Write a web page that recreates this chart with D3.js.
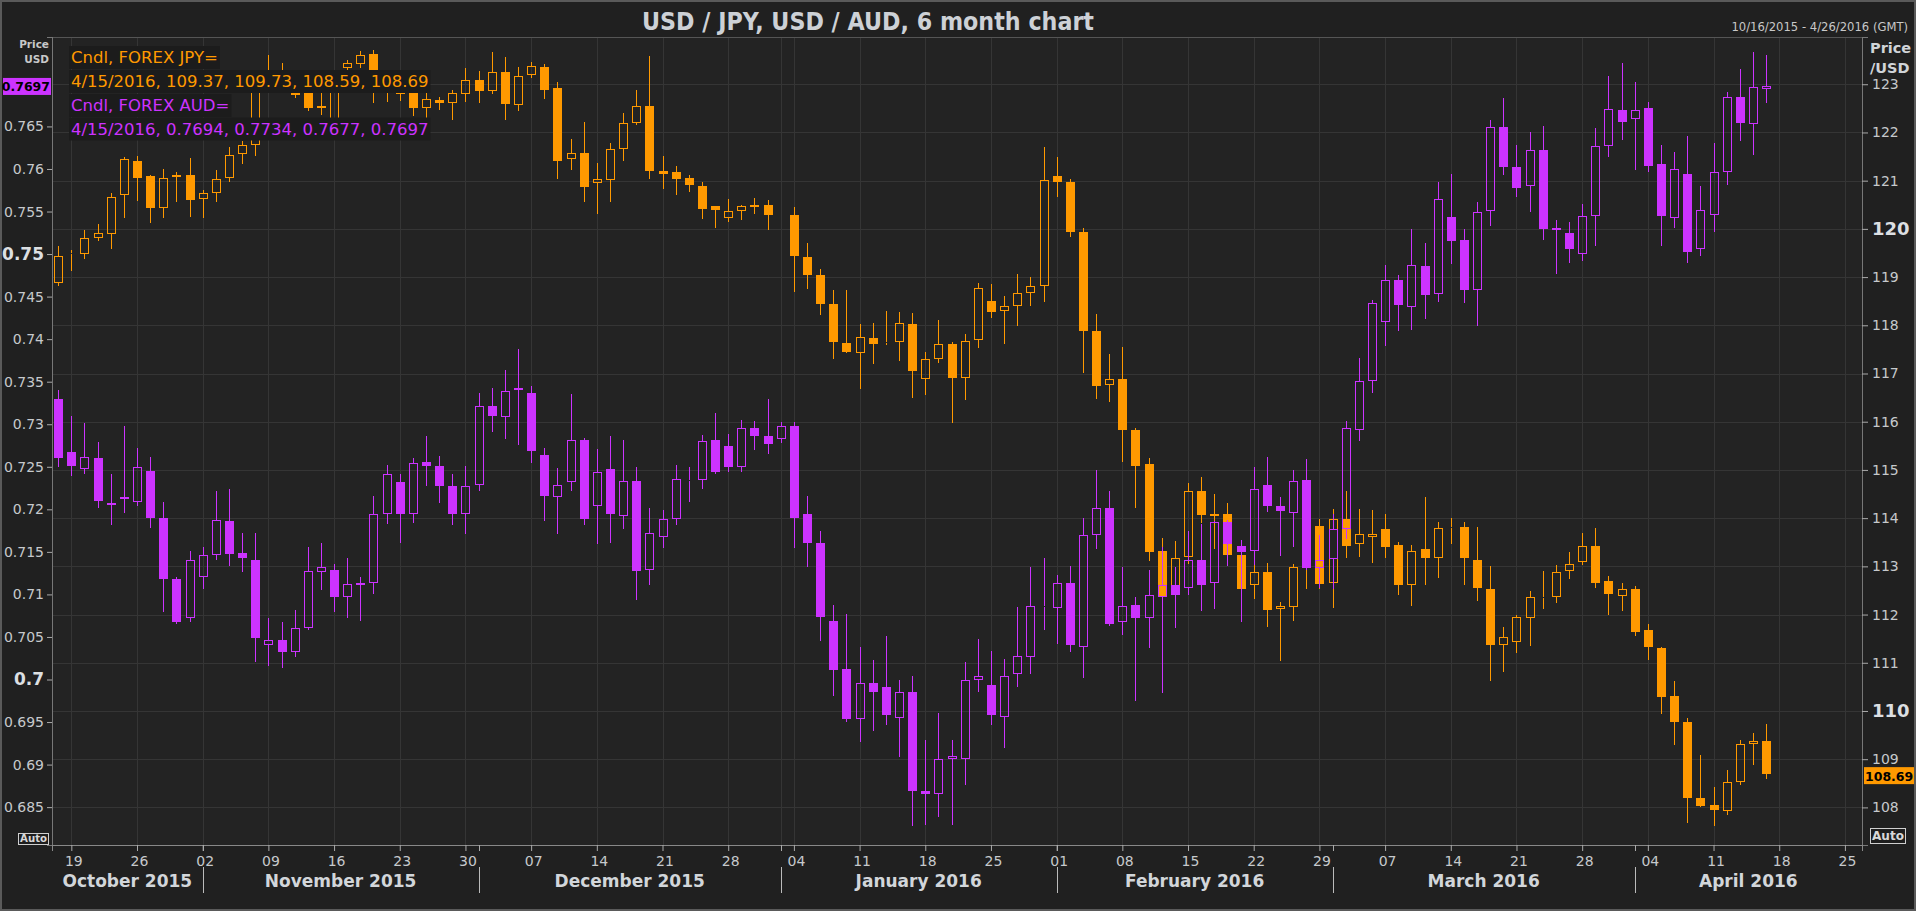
<!DOCTYPE html>
<html><head><meta charset="utf-8">
<script src="https://cdn.jsdelivr.net/npm/d3@7"></script>
<style>
html,body{margin:0;padding:0;background:#202020;overflow:hidden;}
svg{display:block;}
text{font-family:"DejaVu Sans",Verdana,sans-serif;}
</style></head><body>
<svg id="chart" width="1916" height="911"></svg>
<script>
// ---------- data ----------
const firstDay = "2015-10-16";          // first trading day shown
const lastCalendarDay = "2016-04-29";   // end of the time axis
const chartTitle = "USD / JPY, USD / AUD, 6 month chart";
const rangeLabel = "10/16/2015 - 4/26/2016 (GMT)";
const jpyName = "Cndl, FOREX JPY=";
const audName = "Cndl, FOREX AUD=";

const jpyOpen = [118.87,119.47,119.47,119.82,119.90,120.70,121.41,121.10,120.44,121.07,
121.12,120.62,120.74,121.06,121.56,121.74,123.15,123.20,123.00,122.95,
122.50,122.25,123.33,123.42,123.62,122.95,122.80,122.95,122.50,122.67,
122.61,122.80,123.09,122.87,123.25,122.56,123.20,123.36,122.93,121.45,
121.57,120.96,121.02,121.66,122.19,122.54,121.20,121.17,121.06,120.89,
120.47,120.22,120.38,120.49,120.49,120.28,120.28,119.42,119.05,118.45,
117.64,117.43,117.73,117.63,117.66,118.03,116.89,117.30,117.61,116.91,
117.69,118.50,118.29,118.41,118.67,118.81,121.10,120.97,119.94,117.88,
116.76,116.89,115.83,115.12,113.32,112.56,113.20,114.57,114.09,114.08,
113.23,112.61,112.88,112.11,112.16,112.98,113.84,112.66,113.99,113.47,
113.60,113.78,113.45,112.61,113.35,113.17,113.80,113.81,113.14,112.54,
111.37,111.44,111.93,112.35,112.36,112.90,113.09,113.42,112.70,112.39,
112.54,111.68,111.31,110.32,109.78,108.19,108.04,107.92,108.52,109.32,
109.37];
const jpyHigh = [119.65,119.57,119.97,120.10,120.75,121.49,121.52,121.12,121.25,121.18,
121.46,120.81,121.23,121.70,121.83,123.30,123.60,123.44,123.12,123.02,
122.81,123.30,123.50,123.68,123.70,123.10,122.95,123.00,122.94,122.74,
122.88,123.33,123.28,123.67,123.57,123.36,123.47,123.41,123.04,121.87,
122.21,121.36,121.78,122.40,122.88,123.59,121.52,121.30,121.12,120.97,
120.48,120.63,120.50,120.65,120.59,120.29,120.45,119.70,119.17,118.74,
118.74,118.03,118.05,118.29,118.28,118.26,117.44,118.10,117.66,117.82,
118.88,118.86,118.61,119.06,119.00,121.69,121.49,121.04,120.02,118.24,
117.41,117.54,115.86,115.25,113.59,113.52,114.72,114.86,114.50,114.32,
113.30,113.04,113.06,112.26,113.04,114.05,113.98,114.18,114.56,114.19,
114.17,114.08,113.50,113.45,114.43,113.92,114.00,113.92,113.81,113.01,
111.75,112.00,112.48,112.91,113.02,113.30,113.70,113.80,112.81,112.66,
112.59,111.80,111.33,110.62,109.86,109.09,108.43,108.77,109.39,109.55,
109.73];
const jpyLow = [118.82,119.12,119.38,119.74,119.59,120.22,120.58,120.13,120.22,120.56,
120.24,120.22,120.56,120.97,121.35,121.51,123.00,122.90,122.72,122.45,
122.37,122.10,123.10,123.33,122.62,122.64,122.66,122.34,122.21,122.46,
122.26,122.64,122.61,122.80,122.26,122.45,123.12,122.69,121.04,121.22,
120.56,120.31,120.55,121.41,122.16,121.04,120.82,120.70,120.76,120.21,
120.01,120.14,120.18,120.31,119.97,120.27,118.69,118.75,118.21,117.30,
117.42,116.68,117.20,117.60,117.25,116.49,116.56,117.22,115.97,116.45,
117.53,118.16,117.62,117.99,118.39,118.48,120.66,119.83,117.02,116.48,
116.40,115.17,114.21,113.11,112.30,112.29,113.04,113.89,113.36,113.01,
112.50,112.33,111.75,111.04,111.86,112.53,112.53,112.13,113.18,113.19,
113.06,113.17,112.40,112.18,112.61,112.75,113.46,112.61,112.29,110.63,
110.80,111.20,111.35,112.11,112.24,112.74,113.02,112.55,111.99,112.08,
111.55,111.06,109.94,109.30,107.68,108.00,107.62,107.84,108.47,108.88,
108.59];
const jpyClose = [119.43,119.49,119.82,119.92,120.66,121.45,121.06,120.44,121.06,121.12,
120.60,120.75,121.04,121.53,121.74,123.20,123.25,123.15,122.77,122.50,
122.55,123.15,123.44,123.60,122.85,122.88,122.84,122.50,122.69,122.61,
122.81,123.09,122.85,123.25,122.58,123.17,123.37,122.88,121.40,121.57,
120.86,121.03,121.66,122.19,122.54,121.20,121.14,121.04,120.91,120.42,
120.40,120.38,120.47,120.47,120.29,120.28,119.43,119.05,118.45,117.66,
117.44,117.75,117.61,117.66,118.04,117.05,117.30,117.61,116.91,117.67,
118.77,118.27,118.41,118.66,118.81,121.02,120.97,119.94,117.88,116.74,
116.89,115.83,115.08,113.30,112.39,113.18,114.57,114.06,114.07,113.23,
112.53,112.89,112.10,112.17,112.98,113.97,112.64,113.98,113.43,113.67,
113.67,113.41,112.61,113.31,113.17,113.79,113.82,113.17,112.56,111.36,
111.54,111.94,112.37,112.37,112.89,113.05,113.42,112.66,112.43,112.54,
111.64,111.32,110.29,109.78,108.19,108.02,107.94,108.52,109.32,109.37,
108.69];

const audOpen = [0.7330,0.7267,0.7247,0.7260,0.7208,0.7212,0.7209,0.7245,0.7190,0.7118,
0.7072,0.7120,0.7146,0.7186,0.7149,0.7141,0.7041,0.7047,0.7032,0.7060,
0.7126,0.7129,0.7097,0.7111,0.7114,0.7195,0.7232,0.7194,0.7256,0.7251,
0.7228,0.7195,0.7229,0.7322,0.7308,0.7343,0.7337,0.7264,0.7215,0.7232,
0.7282,0.7204,0.7247,0.7192,0.7233,0.7129,0.7167,0.7189,0.7233,0.7234,
0.7282,0.7275,0.7250,0.7296,0.7286,0.7283,0.7298,0.7194,0.7160,0.7069,
0.7012,0.6953,0.6996,0.6991,0.6955,0.6985,0.6869,0.6866,0.6906,0.6907,
0.6999,0.6994,0.6956,0.7007,0.7026,0.7085,0.7084,0.7114,0.7038,0.7170,
0.7201,0.7068,0.7088,0.7072,0.7097,0.7111,0.7107,0.7141,0.7113,0.7185,
0.7157,0.7151,0.7229,0.7204,0.7196,0.7235,0.7131,0.7142,0.7177,0.7293,
0.7351,0.7420,0.7469,0.7438,0.7486,0.7453,0.7544,0.7516,0.7458,0.7551,
0.7649,0.7602,0.7580,0.7622,0.7531,0.7525,0.7500,0.7545,0.7627,0.7669,
0.7659,0.7672,0.7606,0.7542,0.7594,0.7506,0.7546,0.7597,0.7685,0.7653,
0.7694];
const audHigh = [0.7340,0.7310,0.7301,0.7279,0.7241,0.7298,0.7272,0.7261,0.7209,0.7121,
0.7151,0.7156,0.7221,0.7224,0.7172,0.7172,0.7072,0.7067,0.7082,0.7156,
0.7160,0.7136,0.7143,0.7121,0.7216,0.7252,0.7241,0.7260,0.7286,0.7263,
0.7242,0.7251,0.7337,0.7343,0.7364,0.7388,0.7345,0.7272,0.7249,0.7336,
0.7284,0.7271,0.7286,0.7282,0.7250,0.7201,0.7199,0.7252,0.7250,0.7287,
0.7313,0.7288,0.7305,0.7304,0.7330,0.7303,0.7303,0.7216,0.7174,0.7088,
0.7077,0.7038,0.7023,0.7051,0.7000,0.7004,0.6929,0.6961,0.6929,0.7020,
0.7048,0.7034,0.7024,0.7085,0.7132,0.7143,0.7123,0.7133,0.7190,0.7246,
0.7222,0.7132,0.7097,0.7129,0.7156,0.7132,0.7174,0.7183,0.7186,0.7188,
0.7164,0.7250,0.7262,0.7215,0.7246,0.7259,0.7170,0.7195,0.7304,0.7378,
0.7446,0.7487,0.7475,0.7529,0.7513,0.7585,0.7594,0.7529,0.7561,0.7658,
0.7683,0.7628,0.7644,0.7650,0.7540,0.7538,0.7559,0.7648,0.7709,0.7724,
0.7702,0.7679,0.7628,0.7620,0.7639,0.7580,0.7631,0.7690,0.7717,0.7738,
0.7734];
const audLow = [0.7250,0.7239,0.7242,0.7201,0.7182,0.7196,0.7204,0.7178,0.7079,0.7065,
0.7067,0.7106,0.7140,0.7133,0.7126,0.7020,0.7016,0.7014,0.7026,0.7058,
0.7105,0.7079,0.7072,0.7069,0.7100,0.7183,0.7160,0.7184,0.7227,0.7208,
0.7182,0.7171,0.7221,0.7291,0.7283,0.7276,0.7255,0.7186,0.7171,0.7221,
0.7182,0.7159,0.7160,0.7177,0.7094,0.7111,0.7154,0.7181,0.7209,0.7224,
0.7241,0.7244,0.7244,0.7270,0.7265,0.7278,0.7155,0.7132,0.7045,0.6981,
0.6950,0.6926,0.6940,0.6947,0.6909,0.6828,0.6829,0.6838,0.6829,0.6876,
0.6985,0.6946,0.6919,0.6991,0.7007,0.7058,0.7042,0.7032,0.7002,0.7153,
0.7063,0.7052,0.6975,0.7037,0.6984,0.7060,0.7099,0.7080,0.7083,0.7133,
0.7067,0.7135,0.7197,0.7145,0.7156,0.7129,0.7107,0.7106,0.7165,0.7280,
0.7337,0.7392,0.7409,0.7411,0.7424,0.7444,0.7488,0.7442,0.7415,0.7533,
0.7593,0.7567,0.7549,0.7516,0.7477,0.7490,0.7492,0.7510,0.7614,0.7634,
0.7599,0.7597,0.7510,0.7531,0.7490,0.7498,0.7526,0.7581,0.7633,0.7617,
0.7677];
const audClose = [0.7260,0.7251,0.7261,0.7210,0.7207,0.7215,0.7250,0.7190,0.7118,0.7068,
0.7140,0.7146,0.7187,0.7148,0.7143,0.7049,0.7046,0.7032,0.7061,0.7128,
0.7132,0.7097,0.7112,0.7114,0.7195,0.7241,0.7195,0.7255,0.7251,0.7227,
0.7195,0.7228,0.7322,0.7310,0.7339,0.7341,0.7268,0.7216,0.7229,0.7282,
0.7189,0.7244,0.7194,0.7233,0.7127,0.7172,0.7189,0.7236,0.7235,0.7280,
0.7244,0.7250,0.7296,0.7286,0.7277,0.7298,0.7190,0.7160,0.7073,0.7011,
0.6953,0.6996,0.6985,0.6958,0.6985,0.6869,0.6866,0.6906,0.6910,0.6999,
0.7004,0.6958,0.7004,0.7028,0.7086,0.7086,0.7114,0.7040,0.7170,0.7201,
0.7065,0.7086,0.7072,0.7099,0.7111,0.7099,0.7141,0.7111,0.7185,0.7159,
0.7150,0.7224,0.7204,0.7198,0.7233,0.7131,0.7141,0.7177,0.7296,0.7351,
0.7442,0.7469,0.7440,0.7487,0.7452,0.7565,0.7515,0.7458,0.7550,0.7649,
0.7602,0.7578,0.7622,0.7530,0.7529,0.7506,0.7545,0.7627,0.7671,0.7655,
0.7669,0.7604,0.7545,0.7600,0.7503,0.7552,0.7596,0.7685,0.7654,0.7696,
0.7697];

const jpyTicks = [108,109,110,111,112,113,114,115,116,117,118,119,120,121,122,123];
const jpyMajor = [110,120];
const audTicks = [0.685,0.69,0.695,0.7,0.705,0.71,0.715,0.72,0.725,0.73,0.735,0.74,0.745,0.75,0.755,0.76,0.765];
const audMajor = [0.7,0.75];

// ---------- layout ----------
const W = 1916, H = 911;
const plot = {l:52, r:1862, t:37, b:845};
const ORANGE = "#ff9900", PURPLE = "#cc33ff";

const parse = d3.utcParse("%Y-%m-%d");
const calendar = d3.utcDay.range(parse(firstDay), d3.utcDay.offset(parse(lastCalendarDay), 1))
  .filter(d => d.getUTCDay() !== 0 && d.getUTCDay() !== 6);

const x = d3.scaleLinear().domain([-0.47, 137.3]).range([plot.l, plot.r]);
const yJ = d3.scaleLinear().domain([107.22, 123.98]).range([plot.b, plot.t]);
const yA = d3.scaleLinear().domain([0.68055, 0.77551]).range([plot.b, plot.t]);

const svg = d3.select("#chart");
svg.append("rect").attr("width", W).attr("height", H).attr("fill", "#202020");
svg.append("rect").attr("x", 1).attr("y", 1).attr("width", W - 2).attr("height", H - 2)
  .attr("fill", "none").attr("stroke", "#5a5a5a").attr("stroke-width", 2);
svg.append("rect").attr("x", plot.l).attr("y", plot.t).attr("width", plot.r - plot.l).attr("height", plot.b - plot.t)
  .attr("fill", "#232323");

svg.append("defs").append("clipPath").attr("id", "pc").append("rect")
  .attr("x", plot.l).attr("y", plot.t).attr("width", plot.r - plot.l).attr("height", plot.b - plot.t);

// calendar helpers
const mondays = calendar.map((d, k) => ({d, k})).filter(o => o.d.getUTCDay() === 1);
const monthStarts = calendar.map((d, k) => ({d, k}))
  .filter(o => o.k > 0 && o.d.getUTCMonth() !== calendar[o.k - 1].getUTCMonth());
const yearStarts = monthStarts.filter(o => o.d.getUTCMonth() === 0);

// grid
const grid = svg.append("g").attr("shape-rendering", "crispEdges");
grid.selectAll(".hg").data(jpyTicks).join("line")
  .attr("x1", plot.l).attr("x2", plot.r)
  .attr("y1", d => Math.round(yJ(d)) + 0.5).attr("y2", d => Math.round(yJ(d)) + 0.5)
  .attr("stroke", "#353535");
grid.selectAll(".vg").data(mondays.concat(yearStarts)).join("line")
  .attr("x1", o => Math.round(x(o.k)) + 0.5).attr("x2", o => Math.round(x(o.k)) + 0.5)
  .attr("y1", plot.t).attr("y2", plot.b)
  .attr("stroke", "#353535");

// candles
const plotG = svg.append("g").attr("clip-path", "url(#pc)").attr("shape-rendering", "crispEdges");
function candles(O, Hh, L, C, y, color) {
  const data = O.map((o, k) => ({k, o, h: Hh[k], l: L[k], c: C[k]}));
  const g = plotG.append("g");
  const cx = d => Math.round(x(d.k));
  const top = d => Math.round(y(Math.max(d.o, d.c)));
  const bot = d => Math.max(Math.round(y(Math.min(d.o, d.c))), top(d) + 1);
  g.selectAll(".wu").data(data).join("line")
    .attr("x1", d => cx(d) + 0.5).attr("x2", d => cx(d) + 0.5)
    .attr("y1", d => y(d.h)).attr("y2", d => top(d))
    .attr("stroke", color).attr("stroke-width", 1);
  g.selectAll(".wl").data(data).join("line")
    .attr("x1", d => cx(d) + 0.5).attr("x2", d => cx(d) + 0.5)
    .attr("y1", d => bot(d)).attr("y2", d => y(d.l))
    .attr("stroke", color).attr("stroke-width", 1);
  g.selectAll(".bd").data(data.filter(d => d.c < d.o)).join("rect")
    .attr("x", d => cx(d) - 4).attr("width", 9)
    .attr("y", d => top(d)).attr("height", d => Math.max(2, bot(d) - top(d)))
    .attr("fill", color);
  g.selectAll(".bu").data(data.filter(d => d.c >= d.o)).join("rect")
    .attr("x", d => cx(d) - 3.5).attr("width", 8)
    .attr("y", d => top(d) + 0.5).attr("height", d => Math.max(0, bot(d) - top(d) - 1))
    .attr("fill", "none").attr("stroke", color).attr("stroke-width", 1);
}
candles(jpyOpen, jpyHigh, jpyLow, jpyClose, yJ, ORANGE);
candles(audOpen, audHigh, audLow, audClose, yA, PURPLE);

// legend
const leg = svg.append("g");
const last = jpyOpen.length - 1;
const fmtDate = d3.utcFormat("%-m/%-d/%Y");
const lastDate = fmtDate(calendar[last]);
const rows = [
  {t: jpyName, c: ORANGE, y: 63},
  {t: `${lastDate}, ${jpyOpen[last].toFixed(2)}, ${jpyHigh[last].toFixed(2)}, ${jpyLow[last].toFixed(2)}, ${jpyClose[last].toFixed(2)}`, c: ORANGE, y: 87},
  {t: audName, c: PURPLE, y: 111},
  {t: `${lastDate}, ${audOpen[last].toFixed(4)}, ${audHigh[last].toFixed(4)}, ${audLow[last].toFixed(4)}, ${audClose[last].toFixed(4)}`, c: PURPLE, y: 134.5}
];
rows.forEach(r => {
  const bg = leg.append("rect").attr("fill", "#1c1c1c");
  const t = leg.append("text").attr("x", 71).attr("y", r.y).attr("fill", r.c)
    .attr("font-size", "16.5px").text(r.t);
  const bb = t.node().getBBox();
  bg.attr("x", bb.x - 2).attr("y", r.y - 17).attr("width", bb.width + 4).attr("height", 23);
});

// frame lines
const frame = svg.append("g").attr("shape-rendering", "crispEdges");
frame.append("line").attr("x1", plot.l).attr("x2", plot.r).attr("y1", plot.t + 0.5).attr("y2", plot.t + 0.5).attr("stroke", "#555");

// right axis (JPY)
const axR = svg.append("g").attr("transform", `translate(${plot.r},0)`)
  .call(d3.axisRight(yJ).tickValues(jpyTicks).tickSize(6).tickPadding(4).tickFormat(d3.format("d")));
// left axis (AUD)
const axL = svg.append("g").attr("transform", `translate(${plot.l},0)`)
  .call(d3.axisLeft(yA).tickValues(audTicks).tickSize(5).tickPadding(3).tickFormat(d => String(+d.toFixed(3))));
[axR, axL].forEach(a => {
  a.select(".domain").attr("stroke", "#777").attr("shape-rendering", "crispEdges");
  a.selectAll(".tick line").attr("stroke", "#aaa");
  a.selectAll(".tick text").attr("fill", "#c6c9cc").attr("font-size", "14px")
    .attr("font-family", '"DejaVu Sans",Verdana,sans-serif');
});
axR.selectAll(".tick text").filter(d => jpyMajor.includes(d))
  .attr("font-size", "18px").attr("font-weight", "bold").attr("fill", "#dcdfe2");
axL.selectAll(".tick text").filter(d => audMajor.includes(d))
  .attr("font-size", "17px").attr("font-weight", "bold").attr("fill", "#dcdfe2");

// bottom axis
const fmtDay = d3.utcFormat("%d");
const axB = svg.append("g").attr("transform", `translate(0,${plot.b})`)
  .call(d3.axisBottom(x).tickValues(mondays.map(o => o.k)).tickSize(6).tickPadding(5)
    .tickFormat(k => fmtDay(calendar[k])));
axB.select(".domain").attr("stroke", "#888").attr("shape-rendering", "crispEdges");
axB.selectAll(".tick line").attr("stroke", "#aaa");
axB.selectAll(".tick text").attr("fill", "#c6c9cc").attr("font-size", "14px").attr("dx", 2)
  .attr("font-family", '"DejaVu Sans",Verdana,sans-serif');
// month separators
const sepG = svg.append("g").attr("shape-rendering", "crispEdges");
sepG.selectAll(".st").data(monthStarts).join("line")
  .attr("x1", o => Math.round(x(o.k)) + 0.5).attr("x2", o => Math.round(x(o.k)) + 0.5)
  .attr("y1", plot.b).attr("y2", plot.b + 6).attr("stroke", "#aaa");
sepG.selectAll(".sl").data(monthStarts).join("line")
  .attr("x1", o => Math.round(x(o.k)) + 0.5).attr("x2", o => Math.round(x(o.k)) + 0.5)
  .attr("y1", 867).attr("y2", 893).attr("stroke", "#bbb");
// month labels
const bounds = [plot.l].concat(monthStarts.map(o => x(o.k)), [plot.r]);
const monthNames = [calendar[0]].concat(monthStarts.map(o => o.d));
const fmtMonth = d3.utcFormat("%B %Y");
svg.append("g").selectAll("text").data(monthNames).join("text")
  .attr("x", (d, i) => (bounds[i] + bounds[i + 1]) / 2).attr("y", 887)
  .attr("text-anchor", "middle").attr("font-size", "17px").attr("font-weight", "bold")
  .attr("fill", "#d2d6da").text(d => fmtMonth(d));

// title & headers
svg.append("text").attr("x", 868).attr("y", 29.5).attr("text-anchor", "middle")
  .attr("font-size", "24px").attr("font-weight", "bold").attr("fill", "#cdd1d6")
  .attr("textLength", 452).attr("lengthAdjust", "spacingAndGlyphs").text(chartTitle);
svg.append("text").attr("x", 1908).attr("y", 31).attr("text-anchor", "end")
  .attr("font-size", "11.6px").attr("fill", "#c8c8c8").text(rangeLabel);
svg.append("text").attr("x", 49).attr("y", 48).attr("text-anchor", "end")
  .attr("font-size", "10.5px").attr("font-weight", "bold").attr("fill", "#c8c8c8").text("Price");
svg.append("text").attr("x", 49).attr("y", 63).attr("text-anchor", "end")
  .attr("font-size", "10.5px").attr("font-weight", "bold").attr("fill", "#c8c8c8").text("USD");
svg.append("text").attr("x", 1870).attr("y", 53)
  .attr("font-size", "14.5px").attr("font-weight", "bold").attr("fill", "#d0d4d8").text("Price");
svg.append("text").attr("x", 1870).attr("y", 73)
  .attr("font-size", "14.5px").attr("font-weight", "bold").attr("fill", "#d0d4d8").text("/USD");

// last value tags
const tagA = yA(audClose[last]);
svg.append("rect").attr("x", 3).attr("y", tagA - 8.5).attr("width", 48).attr("height", 17).attr("fill", PURPLE);
svg.append("text").attr("x", 50).attr("y", tagA + 5).attr("text-anchor", "end")
  .attr("font-size", "12.5px").attr("font-weight", "bold").attr("fill", "#000")
  .text(audClose[last].toFixed(4));
const tagJ = yJ(jpyClose[last]);
svg.append("rect").attr("x", 1864).attr("y", tagJ - 7).attr("width", 50).attr("height", 17).attr("fill", ORANGE);
svg.append("text").attr("x", 1865).attr("y", tagJ + 6.5).attr("font-size", "12.5px").attr("font-weight", "bold")
  .attr("fill", "#000").text(jpyClose[last].toFixed(2));

// Auto boxes
function autoBox(x0, y0, w, h, fs) {
  svg.append("rect").attr("x", x0 + 0.5).attr("y", y0 + 0.5).attr("width", w).attr("height", h)
    .attr("fill", "#1e1e1e").attr("stroke", "#cfcfcf").attr("shape-rendering", "crispEdges");
  svg.append("text").attr("x", x0 + w / 2 + 0.5).attr("y", y0 + h / 2 + fs * 0.36).attr("text-anchor", "middle")
    .attr("font-size", fs + "px").attr("font-weight", "bold").attr("fill", "#d8d8d8")
    .attr("textLength", w - 3).attr("lengthAdjust", "spacingAndGlyphs").text("Auto");
}
autoBox(18, 833, 30, 11, 10);
autoBox(1870, 828, 35, 15, 12.5);
</script>
</body></html>
